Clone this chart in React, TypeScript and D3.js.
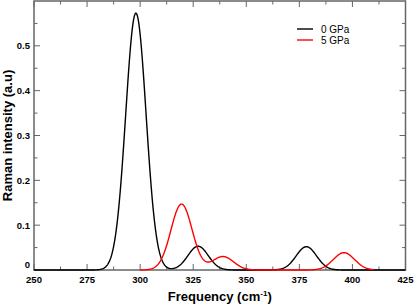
import React from "react";
import * as d3 from "d3";

// Raman modes (frequency cm^-1, peak intensity)
const modes0GPa = [298.0, 327.3, 378.3];
const intens0GPa = [0.573, 0.053, 0.052];
const modes5GPa = [319.5, 339.0, 396.0];
const intens5GPa = [0.147, 0.03, 0.0386];
const broadening = [4.8, 5.0]; // gaussian sigma for each series
const range0GPa = [250, 425];
const range5GPa = [300, 410];
const seriesNames = ["0 GPa", "5 GPa"];
const seriesColors = ["#000000", "#ff0000"];

const xMajorTicks = [250, 275, 300, 325, 350, 375, 400, 425];
const yMajorTicks = [0, 0.1, 0.2, 0.3, 0.4, 0.5];
const yTickLabels = ["0", "0.1", "0.2", "0.3", "0.4", "0.5"];

const W = 415, H = 305;
const L = 34, R = 405.5, T = 1, B = 270;

function spectrum(modes: number[], intens: number[], sigma: number, range: number[]) {
  const pts: [number, number][] = [];
  for (let f = range[0]; f <= range[1] + 1e-9; f += 0.25) {
    let v = 0;
    modes.forEach((m, i) => {
      v += intens[i] * Math.exp(-((f - m) * (f - m)) / (2 * sigma * sigma));
    });
    pts.push([f, v]);
  }
  return pts;
}

export default function App() {
  const x = d3.scaleLinear().domain([250, 425]).range([L, R]);
  const y = d3.scaleLinear().domain([0, 0.6]).range([B, T]);
  const line = d3
    .line<[number, number]>()
    .x((d) => x(d[0]))
    .y((d) => y(d[1]));

  const s0 = spectrum(modes0GPa, intens0GPa, broadening[0], range0GPa);
  const s5 = spectrum(modes5GPa, intens5GPa, broadening[1], range5GPa);

  const xMinor = d3.range(262.5, 425, 25);
  const yMinor = d3.range(0.05, 0.6, 0.1);
  const axisCol = "#666";
  const majorLen = 6, minorLen = 3.5;
  const font = "'Liberation Sans', Arial, Helvetica, sans-serif";

  return (
    <div style={{ position: "absolute", left: 0, top: 0 }}>
      <svg width={W} height={H} style={{ display: "block", background: "#fff" }}>
        {/* ticks */}
        <g stroke={axisCol} strokeWidth={1}>
          {xMajorTicks.map((t) => (
            <g key={"xm" + t}>
              <line x1={x(t)} x2={x(t)} y1={B} y2={B - majorLen} />
              <line x1={x(t)} x2={x(t)} y1={T} y2={T + majorLen} />
            </g>
          ))}
          {xMinor.map((t) => (
            <g key={"xn" + t}>
              <line x1={x(t)} x2={x(t)} y1={B} y2={B - minorLen} />
              <line x1={x(t)} x2={x(t)} y1={T} y2={T + minorLen} />
            </g>
          ))}
          {yMajorTicks.map((t) => (
            <g key={"ym" + t}>
              <line x1={L} x2={L + majorLen} y1={y(t)} y2={y(t)} />
              <line x1={R} x2={R - majorLen} y1={y(t)} y2={y(t)} />
            </g>
          ))}
          {yMinor.map((t) => (
            <g key={"yn" + t}>
              <line x1={L} x2={L + minorLen} y1={y(t)} y2={y(t)} />
              <line x1={R} x2={R - minorLen} y1={y(t)} y2={y(t)} />
            </g>
          ))}
        </g>
        <rect x={L} y={T} width={R - L} height={B - T} fill="none" stroke={axisCol} strokeWidth={1.5} />

        {/* curves */}
        <path d={line(s0) || ""} fill="none" stroke={seriesColors[0]} strokeWidth={1.4} />
        <path d={line(s5) || ""} fill="none" stroke={seriesColors[1]} strokeWidth={1.4} />

        {/* tick labels */}
        <g fontFamily={font} fontSize={9.5} fontWeight="bold" fill="#000">
          {xMajorTicks.map((t) => (
            <text key={"xl" + t} x={x(t)} y={283} textAnchor="middle">
              {t}
            </text>
          ))}
          {yMajorTicks.map((t, i) => (
            <text key={"yl" + t} x={30} y={y(t) + (t === 0 ? -2 : 3.5)} textAnchor="end">
              {yTickLabels[i]}
            </text>
          ))}
        </g>

        {/* axis titles */}
        <text x={(L + R) / 2} y={301} textAnchor="middle" fontFamily={font} fontSize={13} fontWeight="bold">
          Frequency (cm
          <tspan fontSize={8} dy={-5}>-1</tspan>
          <tspan dy={5}>)</tspan>
        </text>
        <text
          transform={`translate(11.5, ${(T + B) / 2}) rotate(-90)`}
          textAnchor="middle"
          fontFamily={font}
          fontSize={13}
          fontWeight="bold"
        >
          Raman intensity (a.u)
        </text>

        {/* legend */}
        {seriesNames.map((n, i) => (
          <g key={n}>
            <line x1={297} x2={313} y1={29 + i * 11} y2={29 + i * 11} stroke={seriesColors[i]} strokeWidth={1.4} />
            <text x={321} y={29 + i * 11 + 3.5} fontFamily={font} fontSize={10}>
              {n}
            </text>
          </g>
        ))}
      </svg>
    </div>
  );
}
